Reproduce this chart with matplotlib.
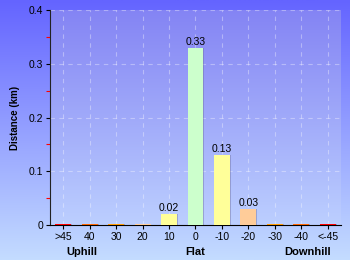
import numpy as np
import matplotlib
matplotlib.use("Agg")
import matplotlib.pyplot as plt
from matplotlib.colors import LinearSegmentedColormap

# data
grades = [">45", "40", "30", "20", "10", "0", "-10", "-20", "-30", "-40", "<-45"]
distance = [0.002, 0.002, 0.002, 0.002, 0.02, 0.33, 0.13, 0.03, 0.002, 0.002, 0.002]
labels = ["", "", "", "", "0.02", "0.33", "0.13", "0.03", "", "", ""]
colors = ["#ff0000", "#ff6600", "#ff9900", "#ffcc99", "#ffff99", "#ccffcc",
          "#ffff99", "#ffcc99", "#ff9900", "#ff6600", "#ff0000"]
groups = ["Uphill", "Flat", "Downhill"]
group_pos = [0.7, 5.0, 9.25]

plt.rcParams['font.family'] = ['Liberation Sans', 'DejaVu Sans']

fig = plt.figure(figsize=(3.5, 2.6), dpi=100)

# outer background gradient
bg = fig.add_axes([0, 0, 1, 1], zorder=-10)
outer = LinearSegmentedColormap.from_list("outer", ["#c4dcff", "#6464ff"])
bg.imshow(np.linspace(0, 1, 256).reshape(-1, 1)[::-1], cmap=outer, aspect="auto",
          extent=[0, 1, 0, 1])
bg.axis("off")

ax = fig.add_axes([50 / 350, 35 / 260, 291 / 350, 215 / 260])
ax.patch.set_alpha(0)
x = np.arange(len(grades))

inner = LinearSegmentedColormap.from_list("inner", ["#bccfff", "#8484f4"])
ax.imshow(np.linspace(0, 1, 256).reshape(-1, 1)[::-1], cmap=inner, aspect="auto",
          extent=[-0.5, len(grades) - 0.5, 0, 0.4], zorder=0)

ax.set_xlim(-0.5, len(grades) - 0.5)
ax.set_ylim(0, 0.4)

# shadow + bars
ax.bar(x + 0.035, distance, width=0.6, color="#7070a0", alpha=0.45, zorder=2)
ax.bar(x, distance, width=0.6, color=colors, zorder=3)
for xi, v, lab in zip(x, distance, labels):
    if lab:
        ax.text(xi, v + 0.002, lab, ha="center", va="bottom", fontsize=7.5, zorder=4)

ax.set_yticks([0, 0.1, 0.2, 0.3, 0.4])
ax.set_yticklabels(["0", "0.1", "0.2", "0.3", "0.4"])
ax.set_yticks([0.05, 0.15, 0.25, 0.35], minor=True)
ax.set_xticks(x)
ax.set_xticklabels(grades)
ax.tick_params(axis="both", labelsize=7.5, length=3, width=0.8, pad=2)
ax.tick_params(axis="y", which="minor", length=3, color="red", width=0.8)

ax.grid(True, linestyle=(0, (4, 4)), color="white", alpha=0.35, linewidth=0.8, zorder=1)
ax.set_axisbelow(True)

for s in ["top", "right"]:
    ax.spines[s].set_visible(False)
ax.spines["left"].set_color("#222222")
ax.spines["bottom"].set_color("black")

ax.set_ylabel("Distance (km)", fontsize=7, fontweight="bold", labelpad=6)
for g, p in zip(groups, group_pos):
    ax.text(p, -0.05, g, ha="center", va="center", fontsize=8, fontweight="bold",
            transform=ax.transData, clip_on=False)

fig.savefig("out.png", dpi=100)
